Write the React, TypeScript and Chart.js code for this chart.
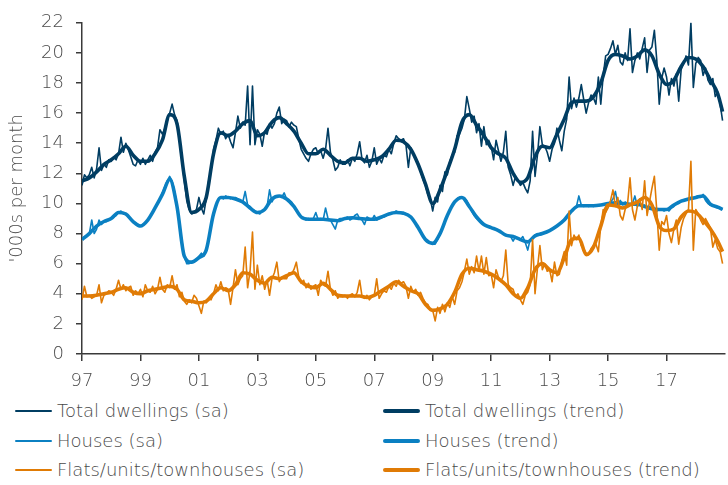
import React, { useEffect, useRef } from 'react';
import { Chart, registerables } from 'chart.js';

Chart.register(...registerables);

const START_YEAR = 1997;
const END_X = 2018 + 11 / 12;
const X_TICKS = [1997, 1999, 2001, 2003, 2005, 2007, 2009, 2011, 2013, 2015, 2017];
const X_TICK_LABELS = ['97', '99', '01', '03', '05', '07', '09', '11', '13', '15', '17'];
const Y_TITLE = "'000s per month";

// Monthly seasonally adjusted series, Jan 1997 - Dec 2018 ('000s)
const totalSa = [
  11.2, 11.9, 11.7, 11.9, 12.4, 11.7, 12.3, 13.7, 12.2, 12.6, 12.4, 12.9,
  12.8, 13.1, 12.9, 13.3, 14.4, 13.4, 14.0, 13.6, 13.1, 12.6, 12.5, 12.9,
  12.6, 13.0, 12.6, 12.9, 13.2, 12.8, 13.4, 13.7, 14.9, 14.6, 15.0, 15.5,
  16.0, 16.6, 15.9, 15.5, 14.3, 13.0, 11.5, 10.2, 9.6, 9.3, 9.4, 9.6,
  10.4, 9.7, 9.3, 10.3, 11.5, 12.2, 13.6, 14.2, 15.0, 14.6, 14.8, 14.3,
  14.6, 14.1, 13.7, 14.7, 15.8, 15.0, 15.4, 15.2, 17.8, 13.9, 17.8, 13.9,
  14.9, 14.6, 13.8, 14.8, 14.6, 15.3, 15.0, 15.3, 16.0, 16.4, 15.3, 15.6,
  15.5, 15.1, 15.4, 15.2, 15.1, 14.3, 13.6, 13.3, 13.0, 12.8, 13.3, 13.6,
  13.7, 13.3, 13.5, 13.0, 13.6, 15.0, 13.4, 12.9, 12.2, 12.4, 12.9, 12.6,
  12.6, 12.9, 12.5, 13.0, 12.8, 13.3, 14.1, 12.9, 12.7, 13.2, 12.4, 12.8,
  13.7, 12.6, 13.0, 12.7, 13.2, 13.1, 13.6, 13.3, 14.0, 14.5, 14.3, 14.2,
  14.3, 13.9, 12.4, 13.7, 13.3, 13.0, 12.7, 12.1, 11.6, 11.2, 10.6, 10.3,
  9.5, 10.4, 10.1, 11.2, 10.8, 12.1, 11.9, 12.8, 13.2, 13.4, 14.5, 14.6,
  15.0, 15.6, 17.1, 16.3, 15.4, 15.8, 14.7, 15.3, 13.8, 15.1, 13.9, 14.2,
  13.8, 12.9, 14.2, 13.5, 12.8, 13.4, 14.8, 12.4, 11.9, 11.2, 11.8, 11.5,
  11.2, 11.4, 11.0, 10.7, 11.5, 14.8, 11.8, 13.2, 15.1, 13.9, 13.8, 13.4,
  12.8, 13.6, 14.0, 15.0, 14.2, 13.5, 14.8, 15.6, 18.4, 16.3, 17.0, 16.4,
  17.0, 17.9, 16.9, 16.0, 16.7, 17.2, 17.0, 16.6, 18.4, 16.6, 18.5, 19.8,
  19.9, 20.3, 20.8, 19.9, 20.5, 19.4, 19.2, 20.0, 19.5, 21.6, 18.7, 19.5,
  20.0, 19.6, 20.3, 21.0, 18.7, 20.2, 20.4, 21.5, 19.5, 16.6, 18.3, 19.0,
  18.4, 17.2, 18.3, 17.8, 18.6, 16.8, 18.9, 19.3, 19.8, 19.2, 22.0, 17.7,
  19.3, 19.7, 19.5, 18.5, 19.0, 18.2, 17.9, 18.3, 17.1, 17.4, 16.6, 15.5,
];

const housesSa = [
  7.6, 7.8, 7.8, 8.0, 8.9, 8.0, 8.3, 8.9, 8.6, 8.8, 8.8, 8.9,
  9.0, 9.1, 9.2, 9.4, 9.5, 9.3, 9.3, 9.1, 9.0, 8.8, 8.7, 8.6,
  8.5, 8.6, 8.7, 8.9, 9.1, 9.4, 9.7, 10.0, 10.3, 10.7, 11.1, 11.5,
  11.8, 11.5, 10.8, 9.9, 8.7, 7.5, 6.5, 6.0, 6.0, 6.1, 6.2, 6.3,
  6.5, 6.7, 6.5, 6.9, 7.6, 8.5, 9.4, 9.9, 10.3, 10.4, 10.3, 10.5,
  10.4, 10.3, 10.4, 10.4, 10.3, 10.2, 10.1, 10.8, 9.9, 9.8, 9.6, 9.5,
  9.4, 9.3, 9.5, 9.6, 9.8, 10.9, 10.1, 10.4, 10.5, 10.5, 10.4, 10.7,
  10.3, 10.2, 10.1, 9.8, 9.6, 9.3, 9.1, 9.0, 8.9, 9.0, 8.9, 9.0,
  9.4, 8.9, 9.0, 8.9, 9.7, 9.0, 8.9, 8.6, 8.3, 8.9, 9.0, 9.0,
  9.0, 9.1, 8.9, 9.0, 9.2, 9.3, 9.0, 8.9, 8.6, 9.1, 9.0, 8.9,
  9.2, 8.9, 9.0, 9.1, 9.1, 9.2, 9.3, 9.4, 9.4, 9.5, 9.4, 9.4,
  9.4, 9.3, 9.2, 9.1, 8.9, 8.7, 8.4, 8.1, 7.8, 7.6, 7.5, 7.4,
  7.3, 7.3, 7.6, 8.0, 8.4, 8.8, 9.2, 9.6, 9.9, 10.1, 10.3, 10.4,
  10.4, 10.4, 10.2, 9.8, 9.5, 9.2, 9.0, 8.9, 8.8, 8.6, 8.5, 8.5,
  8.4, 8.3, 8.3, 8.2, 8.1, 8.0, 7.9, 7.9, 7.8, 7.5, 7.8, 7.7,
  7.6, 7.8, 7.4, 6.9, 7.6, 7.7, 7.9, 8.0, 7.9, 8.0, 8.1, 8.1,
  8.2, 8.3, 8.4, 8.5, 8.6, 8.8, 8.9, 9.1, 9.3, 9.5, 9.7, 9.8,
  10.5, 9.9, 9.8, 9.9, 9.8, 9.9, 9.8, 9.9, 9.85, 9.9, 9.9, 9.95,
  9.9, 10.1, 10.3, 10.8, 9.9, 10.2, 9.9, 10.1, 10.0, 9.9, 10.0, 10.5,
  9.8, 10.0, 9.8, 9.9, 9.7, 9.8, 9.6, 9.7, 9.5, 9.6, 9.6, 9.5,
  9.6, 9.5, 9.7, 9.8, 10.0, 10.0, 10.2, 10.2, 10.3, 10.3, 10.4, 10.3,
  10.4, 10.5, 10.4, 10.6, 10.2, 10.0, 9.9, 9.9, 9.8, 9.7, 9.7, 9.6,
];

const flatsSa = [
  3.6, 4.5, 3.8, 3.9, 3.7, 3.8, 3.9, 4.6, 3.4, 3.9, 4.0, 4.2,
  4.1, 3.9, 4.3, 4.9, 4.3, 4.6, 4.2, 4.4, 4.5, 3.9, 4.2, 4.0,
  4.3, 3.8, 4.6, 4.2, 4.1, 4.5, 4.0, 4.3, 5.1, 4.3, 4.1, 4.6,
  4.4, 5.2, 4.3, 4.6, 3.8, 4.1, 3.5, 3.3, 3.6, 3.4, 3.9, 3.7,
  3.2, 2.7, 3.5, 3.4, 3.7, 3.6, 4.0, 4.6, 4.2, 4.8, 4.2, 4.4,
  4.3, 3.3, 4.4, 5.6, 4.6, 5.0, 5.2, 7.1, 4.4, 5.5, 8.1, 4.3,
  5.9, 4.6, 5.2, 4.3, 4.9, 3.9, 5.0, 5.4, 6.1, 4.8, 5.1, 5.0,
  5.0, 5.4, 5.3, 5.6, 6.1, 5.1, 4.7, 4.9, 4.4, 4.7, 4.3, 4.5,
  4.6, 3.9, 4.9, 4.6, 4.5, 5.5, 4.3, 3.9, 4.2, 3.7, 3.9, 3.8,
  3.9, 3.7, 3.9, 4.0, 3.8, 4.1, 4.9, 3.8, 3.7, 3.9, 3.6, 3.8,
  3.9, 5.0, 3.7, 4.0, 4.2, 4.1, 4.5, 4.3, 4.7, 4.5, 4.9, 4.7,
  4.8, 4.5, 3.7, 4.5, 4.1, 4.3, 3.9, 4.1, 3.7, 3.4, 3.3, 2.9,
  2.9, 2.2, 3.1, 2.7, 3.3, 2.8, 3.4, 3.1, 3.8, 3.3, 4.2, 4.4,
  4.8, 5.5, 6.3, 5.3, 5.8, 5.4, 6.5, 5.5, 6.5, 5.3, 6.4, 5.2,
  5.3, 4.4, 5.6, 5.1, 4.8, 5.2, 6.9, 4.6, 4.4, 4.3, 3.8, 4.0,
  3.6, 3.3, 3.9, 4.1, 4.6, 7.6, 4.0, 5.7, 7.2, 5.6, 6.0, 5.5,
  5.6, 4.8, 6.1, 5.2, 5.3, 6.2, 6.8, 5.9, 9.5, 7.2, 7.9, 7.6,
  7.9, 7.2, 7.0, 6.7, 6.6, 7.0, 7.2, 7.3, 6.8, 8.5, 9.6, 9.4,
  9.7, 10.2, 10.9, 9.8, 10.4, 9.2, 8.9, 9.6, 10.0, 11.7, 9.6, 8.9,
  9.8, 10.3, 9.6, 11.5, 9.2, 10.1, 11.0, 11.8, 9.5, 6.9, 8.8, 8.6,
  9.2, 8.0, 7.4, 8.3, 8.9, 7.3, 8.4, 9.0, 9.3, 9.6, 12.8, 6.9,
  9.6, 9.3, 8.9, 8.6, 9.0, 8.7, 8.4, 7.1, 7.6, 7.0, 6.8, 6.0,
];

// Trend series, quarterly readings (Jan, Apr, Jul, Oct) 1997-2018, plus Dec 2018
const totalTrend = [
  11.5, 11.7, 12.1, 12.6,
  12.9, 13.3, 13.8, 13.2,
  12.8, 12.8, 13.3, 14.2,
  15.9, 15.3, 11.8, 9.4,
  9.6, 10.4, 13.3, 14.7,
  14.5, 14.8, 15.3, 15.5,
  14.5, 14.7, 15.4, 15.7,
  15.3, 14.8, 14.0, 13.3,
  13.3, 13.6, 13.2, 12.8,
  12.7, 13.0, 13.0, 12.8,
  12.9, 13.1, 13.6, 14.2,
  14.1, 13.6, 12.6, 11.3,
  10.0, 10.9, 12.2, 13.6,
  15.4, 15.9, 15.2, 14.5,
  13.7, 13.3, 13.0, 12.0,
  11.4, 11.7, 13.1, 13.8,
  13.7, 14.6, 15.6, 16.7,
  16.8, 16.8, 17.1, 18.0,
  19.5, 19.9, 19.8, 19.6,
  19.8, 20.2, 19.8, 18.6,
  17.9, 18.2, 19.1, 19.7,
  19.6, 19.1, 18.2, 17.3,
  16.1,
];

const housesTrend = [
  7.6, 8.0, 8.5, 8.8,
  9.0, 9.4, 9.3, 8.8,
  8.5, 8.9, 9.7, 10.6,
  11.6, 9.8, 6.5, 6.1,
  6.4, 6.9, 9.3, 10.4,
  10.4, 10.3, 10.1, 9.7,
  9.4, 9.6, 10.3, 10.5,
  10.3, 9.8, 9.1, 8.95,
  8.95, 8.95, 8.9, 8.85,
  9.0, 9.05, 9.0, 8.95,
  8.95, 9.1, 9.3, 9.4,
  9.35, 9.1, 8.4, 7.6,
  7.35, 8.0, 9.2, 10.1,
  10.4, 9.8, 9.1, 8.6,
  8.4, 8.2, 7.9, 7.8,
  7.6, 7.45, 7.85, 8.0,
  8.2, 8.5, 8.9, 9.5,
  9.85, 9.85, 9.85, 9.9,
  10.0, 10.05, 10.0, 9.95,
  9.95, 9.8, 9.65, 9.6,
  9.6, 9.9, 10.15, 10.3,
  10.4, 10.5, 9.95, 9.75,
  9.6,
];

const flatsTrend = [
  3.85, 3.85, 3.9, 4.0,
  4.1, 4.3, 4.4, 4.1,
  4.0, 4.2, 4.3, 4.4,
  4.5, 4.3, 3.6, 3.5,
  3.4, 3.5, 4.0, 4.4,
  4.2, 4.6, 5.4, 5.3,
  4.9, 4.7, 5.1, 5.0,
  5.2, 5.4, 4.8, 4.5,
  4.4, 4.7, 4.3, 3.9,
  3.85, 3.85, 3.85, 3.75,
  3.9, 4.2, 4.5, 4.8,
  4.5, 4.2, 4.0, 3.3,
  2.9, 3.0, 3.3, 4.1,
  5.3, 5.7, 5.6, 5.5,
  5.3, 5.0, 4.6, 4.0,
  3.7, 4.4, 5.6, 6.0,
  5.6, 5.4, 6.4, 7.6,
  7.7, 6.6, 7.1, 8.5,
  9.9, 9.85, 9.7, 9.9,
  10.1, 10.4, 9.9, 8.5,
  8.2, 8.3, 9.1, 9.5,
  9.4, 8.9, 8.3, 7.5,
  6.8,
];

const NAVY = '#003d62';
const BLUE = '#0b80c2';
const ORANGE = '#e07b05';
const TEXT = '#4a4a4a';
const AXIS = '#3a3a3a';
const FONT_FAMILY = "'DejaVu Sans', sans-serif";

const SERIES = [
  { label: 'Total dwellings (sa)', color: NAVY, width: 1.6, trend: false, data: totalSa, order: 5 },
  { label: 'Total dwellings (trend)', color: NAVY, width: 3.6, trend: true, data: totalTrend, order: 4 },
  { label: 'Houses (sa)', color: BLUE, width: 1.6, trend: false, data: housesSa, order: 3 },
  { label: 'Houses (trend)', color: BLUE, width: 3.6, trend: true, data: housesTrend, order: 2 },
  { label: 'Flats/units/townhouses (sa)', color: ORANGE, width: 1.6, trend: false, data: flatsSa, order: 1 },
  { label: 'Flats/units/townhouses (trend)', color: ORANGE, width: 3.6, trend: true, data: flatsTrend, order: 0 },
];

export default function App() {
  const ref = useRef<HTMLCanvasElement>(null);

  useEffect(() => {
    document.body.style.margin = '0';
    const monthly = (arr: number[]) => arr.map((v, i) => ({ x: START_YEAR + i / 12, y: v }));
    const quarterly = (arr: number[]) =>
      arr.map((v, i) => ({ x: Math.min(START_YEAR + i / 4, END_X), y: v }));
    const font = { family: FONT_FAMILY, size: 18, weight: '200' as any };

    const chart = new Chart(ref.current as HTMLCanvasElement, {
      type: 'line',
      data: {
        datasets: SERIES.map((s) => ({
          label: s.label,
          data: s.trend ? quarterly(s.data) : monthly(s.data),
          borderColor: s.color,
          backgroundColor: s.color,
          borderWidth: s.width,
          pointRadius: 0,
          fill: false,
          order: s.order,
          cubicInterpolationMode: s.trend ? ('monotone' as const) : ('default' as const),
          tension: 0,
          borderJoinStyle: 'round' as const,
        })),
      },
      options: {
        animation: false,
        responsive: true,
        maintainAspectRatio: false,
        layout: { padding: { top: 17, right: 3, left: 0, bottom: 0 } },
        plugins: { legend: { display: false }, tooltip: { enabled: false } },
        scales: {
          x: {
            type: 'linear',
            min: START_YEAR,
            max: 2019,
            afterBuildTicks: (s: any) => {
              s.ticks = X_TICKS.map((v) => ({ value: v }));
            },
            afterFit: (s: any) => {
              s.height = 38;
            },
            ticks: {
              autoSkip: false,
              maxRotation: 0,
              padding: 10,
              color: TEXT,
              font,
              callback: (v: any) => {
                const i = X_TICKS.indexOf(Number(v));
                return i >= 0 ? X_TICK_LABELS[i] : '';
              },
            },
            grid: { drawOnChartArea: false, drawTicks: true, tickLength: 7, color: AXIS, lineWidth: 1.5 },
            border: { display: true, color: AXIS, width: 1.5 },
          },
          y: {
            min: 0,
            max: 22,
            afterFit: (s: any) => {
              s.width = 82;
            },
            ticks: { stepSize: 2, padding: 12, color: TEXT, font },
            grid: { drawOnChartArea: false, drawTicks: true, tickLength: 6, color: AXIS, lineWidth: 1.5 },
            border: { display: true, color: AXIS, width: 1.5 },
            title: {
              display: true,
              text: Y_TITLE,
              color: TEXT,
              font,
              padding: { top: 7, bottom: 0 },
            },
          },
        },
      },
    });
    return () => chart.destroy();
  }, []);

  const rowY = [411, 441, 470];
  const colX = [15, 383];

  return (
    <div style={{ position: 'absolute', left: 0, top: 0, width: 728, height: 485, background: '#fff' }}>
      <div style={{ position: 'absolute', left: 0, top: 0, width: 728, height: 392 }}>
        <canvas ref={ref} />
      </div>
      {SERIES.map((s, i) => (
        <div
          key={s.label}
          style={{
            position: 'absolute',
            left: colX[i % 2],
            top: rowY[Math.floor(i / 2)] - 12,
            height: 24,
            display: 'flex',
            alignItems: 'center',
            whiteSpace: 'nowrap',
          }}
        >
          <span
            style={{
              display: 'inline-block',
              width: 37,
              height: s.trend ? 4 : 2,
              background: s.color,
              marginRight: 5,
              borderRadius: s.trend ? 2 : 1,
            }}
          />
          <span
            style={{
              fontFamily: FONT_FAMILY,
              fontWeight: 200,
              fontSize: 18,
              color: TEXT,
              lineHeight: '24px',
            }}
          >
            {s.label}
          </span>
        </div>
      ))}
    </div>
  );
}
